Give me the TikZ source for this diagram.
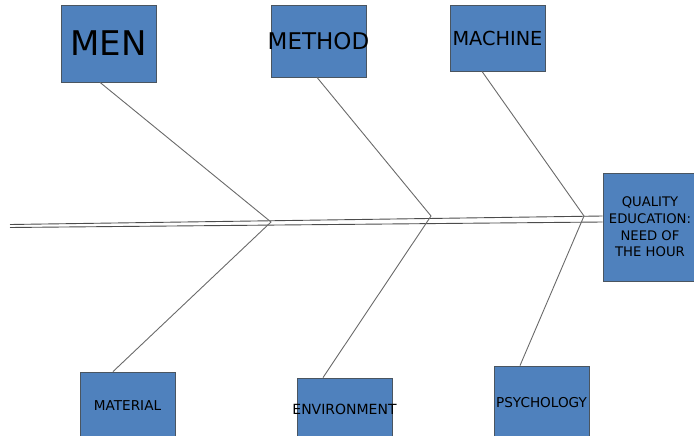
\documentclass[tikz,border=0pt]{standalone}
\usepackage{fontspec}
\setmainfont{DejaVu Sans}
\usetikzlibrary{calc}
\definecolor{boxblue}{HTML}{4F81BD}
\definecolor{boxedge}{HTML}{4A5560}
\definecolor{bone}{HTML}{6A6A6A}
\begin{document}
\begin{tikzpicture}[x=1pt,y=-1pt,
  box/.style={draw=boxedge, line width=0.8pt, fill=boxblue, inner sep=0pt, align=center, text=black},
  boneline/.style={draw=bone, line width=0.9pt},
  spineline/.style={draw=black!70, line width=0.9pt}]
\useasboundingbox (0,0) rectangle (694,436);
\clip (0,0) rectangle (694,436);
% boxes
\node[box, minimum width=95pt, minimum height=77pt, font=\fontsize{34}{40}\selectfont] (men) at (108.5,43.5) {MEN};
\node[box, minimum width=95pt, minimum height=72pt, font=\fontsize{23}{28}\selectfont] (method) at (318.5,41) {\makebox[0pt]{METHOD}};
\node[box, minimum width=95pt, minimum height=66pt, font=\fontsize{19.3}{23}\selectfont] (machine) at (497.5,38) {MACHINE};
\node[box, minimum width=95pt, minimum height=68pt, font=\fontsize{13.6}{16}\selectfont] (material) at (127.5,406) {MATERIAL};
\node[box, minimum width=95pt, minimum height=62pt, font=\fontsize{14}{17}\selectfont] (environment) at (344.5,409) {\makebox[0pt]{ENVIRONMENT}};
\node[box, minimum width=95pt, minimum height=74pt, font=\fontsize{13.6}{16}\selectfont] (psychology) at (541.5,403) {PSYCHOLOGY};
\node[box, minimum width=94pt, minimum height=108pt, font=\fontsize{13.2}{16.7}\selectfont] (quality) at (650,227) {QUALITY\\EDUCATION:\\NEED OF\\THE HOUR};
% joints and spine ends
\coordinate (j1) at (271,222);
\coordinate (j2) at (431,216);
\coordinate (j3) at (584,216);
\coordinate (sl1) at (10,224.5);
\coordinate (sl2) at (10,227.5);
\coordinate (sr1) at (quality.west |- 0,216);
\coordinate (sr2) at (quality.west |- 0,222);
% spine
\draw[spineline] (sl1) -- (sr1);
\draw[spineline] (sl2) -- (sr2);
% bones
\draw[boneline] ($(men.south)+(-8.5,0)$) -- (j1) -- ($(material.north)+(-14.5,0)$);
\draw[boneline] ($(method.south)+(-1.5,0)$) -- (j2) -- ($(environment.north)+(-21.5,0)$);
\draw[boneline] ($(machine.south)+(-15.5,0)$) -- (j3) -- ($(psychology.north)+(-21.5,0)$);
\end{tikzpicture}
\end{document}
